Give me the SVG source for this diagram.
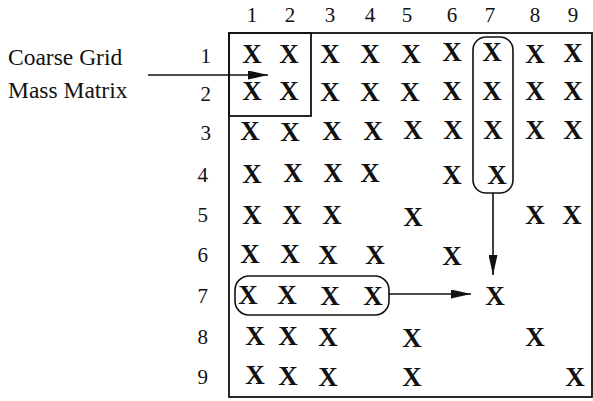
<svg xmlns="http://www.w3.org/2000/svg" width="593" height="401" viewBox="0 0 593 401">
<defs>
<style>
.lbl{font-family:"Liberation Serif","Times New Roman",serif;font-size:23.5px;fill:#111}
.num{font-family:"Liberation Serif","Times New Roman",serif;font-size:21px;fill:#111;text-anchor:middle}
.rn{font-family:"Liberation Serif","Times New Roman",serif;font-size:21px;fill:#111;text-anchor:end}
.x{font-family:"Liberation Serif","Times New Roman",serif;font-size:27px;font-weight:bold;fill:#111;text-anchor:middle}
.ln{fill:none;stroke:#111;stroke-width:1.6}
.box{fill:none;stroke:#111;stroke-width:1.8}
</style>
<marker id="ah" markerUnits="userSpaceOnUse" markerWidth="20" markerHeight="9" refX="20" refY="4.5" orient="auto">
<path d="M0,0 L20,4.5 L0,9 Z" fill="#111"/>
</marker>
</defs>
<rect width="593" height="401" fill="#fff"/>
<g id="matrix">
<rect class="box" x="229" y="33" width="363" height="364"/>
</g>
<g id="coarse-box">
<rect class="box" x="229" y="33" width="82" height="83"/>
</g>
<g id="col7-box">
<rect class="ln" x="473" y="37" width="40" height="156" rx="13"/>
</g>
<g id="row7-box">
<rect class="ln" x="235" y="276" width="154" height="39" rx="14"/>
</g>
<g id="label">
<text class="lbl" x="8" y="65">Coarse Grid</text>
<text class="lbl" x="8" y="98">Mass Matrix</text>
</g>
<g id="headers">
<text class="num" x="252" y="22">1</text>
<text class="num" x="290" y="22">2</text>
<text class="num" x="330" y="22">3</text>
<text class="num" x="370" y="22">4</text>
<text class="num" x="407" y="22">5</text>
<text class="num" x="452" y="22">6</text>
<text class="num" x="490" y="22">7</text>
<text class="num" x="535" y="22">8</text>
<text class="num" x="573" y="22">9</text>
<text class="rn" x="211" y="63">1</text>
<text class="rn" x="211" y="101">2</text>
<text class="rn" x="211" y="140">3</text>
<text class="rn" x="208" y="182">4</text>
<text class="rn" x="208" y="222">5</text>
<text class="rn" x="208" y="262">6</text>
<text class="rn" x="208" y="303">7</text>
<text class="rn" x="208" y="344">8</text>
<text class="rn" x="208" y="384">9</text>
</g>
<g id="entries">
<text class="x" x="252" y="63">X</text><text class="x" x="289" y="63">X</text><text class="x" x="330" y="63">X</text><text class="x" x="370" y="63">X</text><text class="x" x="411" y="63">X</text><text class="x" x="452" y="61">X</text><text class="x" x="492" y="61">X</text><text class="x" x="535" y="63">X</text><text class="x" x="573" y="62">X</text>
<text class="x" x="252" y="100">X</text><text class="x" x="289" y="100">X</text><text class="x" x="330" y="101">X</text><text class="x" x="370" y="101">X</text><text class="x" x="410" y="101">X</text><text class="x" x="452" y="100">X</text><text class="x" x="492" y="100">X</text><text class="x" x="535" y="100">X</text><text class="x" x="573" y="100">X</text>
<text class="x" x="250" y="140">X</text><text class="x" x="290" y="141">X</text><text class="x" x="332" y="140">X</text><text class="x" x="373" y="140">X</text><text class="x" x="413" y="139">X</text><text class="x" x="453" y="139">X</text><text class="x" x="493" y="139">X</text><text class="x" x="535" y="139">X</text><text class="x" x="573" y="139">X</text>
<text class="x" x="252" y="183">X</text><text class="x" x="293" y="182">X</text><text class="x" x="333" y="182">X</text><text class="x" x="370" y="182">X</text><text class="x" x="452" y="184">X</text><text class="x" x="497" y="184">X</text>
<text class="x" x="252" y="224">X</text><text class="x" x="292" y="224">X</text><text class="x" x="332" y="224">X</text><text class="x" x="413" y="226">X</text><text class="x" x="535" y="224">X</text><text class="x" x="572" y="224">X</text>
<text class="x" x="250" y="263">X</text><text class="x" x="290" y="263">X</text><text class="x" x="328" y="264">X</text><text class="x" x="375" y="264">X</text><text class="x" x="452" y="265">X</text>
<text class="x" x="248" y="304">X</text><text class="x" x="287" y="304">X</text><text class="x" x="330" y="305">X</text><text class="x" x="373" y="305">X</text><text class="x" x="495" y="305">X</text>
<text class="x" x="255" y="345">X</text><text class="x" x="288" y="345">X</text><text class="x" x="328" y="346">X</text><text class="x" x="412" y="347">X</text><text class="x" x="535" y="346">X</text>
<text class="x" x="255" y="384">X</text><text class="x" x="288" y="385">X</text><text class="x" x="328" y="386">X</text><text class="x" x="412" y="386">X</text><text class="x" x="575" y="386">X</text>
</g>
<g id="connectors">
<line class="ln" x1="148" y1="75" x2="268" y2="75" marker-end="url(#ah)"/>
<line class="ln" x1="493" y1="193" x2="493" y2="275" marker-end="url(#ah)"/>
<line class="ln" x1="389" y1="294" x2="471" y2="294" marker-end="url(#ah)"/>
</g>
</svg>
